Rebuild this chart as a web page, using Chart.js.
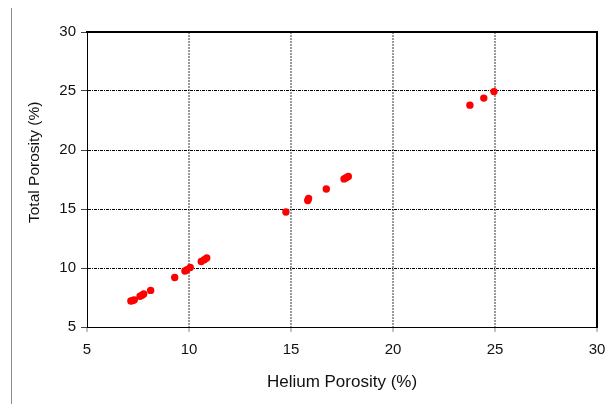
<!DOCTYPE html>
<html>
<head>
<meta charset="utf-8">
<script src="https://cdn.jsdelivr.net/npm/chart.js@4"></script>
<style>
  html, body { margin: 0; padding: 0; background: #fff; }
  #wrap { position: relative; width: 605px; height: 404px; }
  #edge { position: absolute; left: 11px; top: 8px; width: 1px; height: 396px; background: #8c8c8c; }
  canvas { position: absolute; left: 0; top: 0; }
</style>
</head>
<body>
<div id="wrap">
  <canvas id="chart" width="605" height="404"></canvas>
  <div id="edge"></div>
</div>
<script>
  // Helium vs total porosity
  const heliumPorosity = [7.15, 7.25, 7.32, 7.6, 7.7, 7.78, 8.12, 9.3, 9.8, 9.9, 10.06, 10.6, 10.75, 10.87,
    14.75, 15.82, 15.86, 16.73, 17.6, 17.7, 17.81, 23.77, 24.45, 24.95];
  const totalPorosity = [7.2, 7.25, 7.3, 7.6, 7.7, 7.8, 8.1, 9.2, 9.75, 9.85, 10.05, 10.55, 10.7, 10.85,
    14.75, 15.72, 15.9, 16.7, 17.55, 17.65, 17.75, 23.8, 24.4, 24.95];
  const AXIS_MIN = 5;
  const AXIS_MAX = 30;
  const AXIS_STEP = 5;
  const xTitle = 'Helium Porosity (%)';
  // leading spaces nudge the rotated title up, as in the original
  const yTitle = '        Total Porosity (%)';

  const points = heliumPorosity.map((x, i) => ({ x, y: totalPorosity[i] }));
  const FONT = 'Liberation Sans, Arial, sans-serif';

  // hide the grid line that sits on the plot frame
  const edgeless = (color) => (c) => (c.tick && (c.tick.value === AXIS_MIN || c.tick.value === AXIS_MAX)) ? 'rgba(0,0,0,0)' : color;

  new Chart(document.getElementById('chart'), {
    type: 'scatter',
    data: {
      datasets: [{
        data: points,
        backgroundColor: '#ff0000',
        borderColor: '#ff0000',
        borderWidth: 0,
        pointRadius: 3.7,
        pointHoverRadius: 3.7
      }]
    },
    options: {
      responsive: false,
      animation: false,
      events: [],
      layout: { padding: { left: 14, top: 32, right: 8, bottom: 0 } },
      plugins: { legend: { display: false }, tooltip: { enabled: false } },
      scales: {
        x: {
          type: 'linear',
          position: 'bottom',
          min: AXIS_MIN,
          max: AXIS_MAX,
          afterFit: (s) => { s.height = 77; s.paddingLeft = 0; s.paddingRight = 0; },
          ticks: { stepSize: AXIS_STEP, padding: 9, color: '#111', font: { family: FONT, size: 15 } },
          grid: { color: edgeless('#9a9a9a'), lineWidth: 2, tickColor: '#888', tickLength: 5, tickWidth: 1 },
          border: { display: true, color: '#000', width: 1, dash: [2, 1] },
          title: { display: true, text: xTitle, color: '#111', font: { family: FONT, size: 17, lineHeight: 1 }, padding: { top: 0, bottom: 13 } }
        },
        y: {
          type: 'linear',
          position: 'left',
          min: AXIS_MIN,
          max: AXIS_MAX,
          afterFit: (s) => { s.width = 73; s.paddingTop = 0; s.paddingBottom = 0; },
          ticks: { stepSize: AXIS_STEP, padding: 5, color: '#111', font: { family: FONT, size: 15 } },
          grid: { color: edgeless('#000'), lineWidth: 1, tickColor: '#444', tickLength: 6, tickWidth: 1 },
          border: { display: true, color: '#000', width: 1, dash: [3, 1, 1, 1] },
          title: { display: true, text: yTitle, color: '#111', font: { family: FONT, size: 15.5, lineHeight: 1 }, padding: { top: 13, bottom: 0 } }
        },
        x2: {
          type: 'linear',
          position: 'top',
          min: AXIS_MIN,
          max: AXIS_MAX,
          afterFit: (s) => { s.height = 0; s.paddingLeft = 0; s.paddingRight = 0; },
          ticks: { display: false },
          grid: { display: false, drawTicks: false },
          border: { display: true, color: '#000', width: 2 }
        },
        y2: {
          type: 'linear',
          position: 'right',
          min: AXIS_MIN,
          max: AXIS_MAX,
          afterFit: (s) => { s.width = 0; s.paddingTop = 0; s.paddingBottom = 0; },
          ticks: { display: false },
          grid: { display: false, drawTicks: false },
          border: { display: true, color: '#000', width: 2 }
        }
      }
    }
  });
</script>
</body>
</html>
